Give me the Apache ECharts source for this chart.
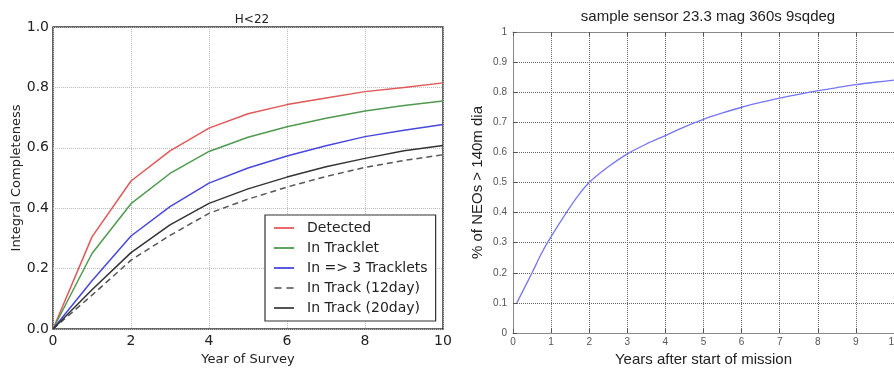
<!DOCTYPE html>
<html><head><meta charset="utf-8">
<script src="https://cdn.jsdelivr.net/npm/echarts@6/dist/echarts.min.js"></script>
<style>html,body{margin:0;padding:0;background:#fff}#c{width:894px;height:368px}</style>
</head><body><div id="c"></div>
<script>
// Left chart data
const yearsLeft = [0,1,2,3,4,5,6,7,8,9,10];
const detected   = [0, 0.305, 0.49, 0.59, 0.665, 0.713, 0.743, 0.765, 0.786, 0.800, 0.815];
const inTracklet = [0, 0.25, 0.415, 0.515, 0.588, 0.635, 0.670, 0.698, 0.722, 0.740, 0.755];
const in3Tracklets = [0, 0.16, 0.308, 0.405, 0.483, 0.533, 0.573, 0.607, 0.637, 0.658, 0.677];
const inTrack12 = [0, 0.112, 0.228, 0.31, 0.383, 0.430, 0.470, 0.505, 0.535, 0.558, 0.577];
const inTrack20 = [0, 0.13, 0.253, 0.345, 0.416, 0.464, 0.503, 0.537, 0.565, 0.590, 0.608];
const leftYTicks = ['0.0','0.2','0.4','0.6','0.8','1.0'];
// Right chart data
const yearsRight = [0.1,0.3,0.5,0.75,1,1.4,1.7,2,2.5,3,3.5,4,4.5,5,5.5,6,6.5,7,7.5,8,8.5,9,9.5,10];
const pctNEO = [0.10,0.15,0.20,0.265,0.32,0.40,0.455,0.50,0.552,0.595,0.628,0.656,0.685,0.710,0.731,0.750,0.766,0.780,0.793,0.805,0.815,0.825,0.833,0.840];

const L = (d) => yearsLeft.map((x,i)=>[x,d[i]]);
const dv = 'DejaVu Sans', ar = 'Liberation Sans';
const solidIcon = 'path://M0,0h20v2h-20z';
const dashIcon = 'path://M0,0h7v2h-7zM12,0h7v2h-7z';
const chart = echarts.init(document.getElementById('c'));
chart.setOption({
  animation:false,
  backgroundColor:'#fff',
  title:[
    {text:'H<22', left:247, top:9, textAlign:'center', textStyle:{fontFamily:dv,fontSize:12,fontWeight:'normal',color:'#222'}},
    {text:'sample sensor 23.3 mag 360s 9sqdeg', left:703, top:4, textAlign:'center', textStyle:{fontFamily:ar,fontSize:15,fontWeight:'normal',color:'#222'}}
  ],
  legend:{
    data:[
      {name:'Detected', icon:solidIcon},
      {name:'In Tracklet', icon:solidIcon},
      {name:'In => 3 Tracklets', icon:solidIcon},
      {name:'In Track (12day)', icon:dashIcon},
      {name:'In Track (20day)', icon:solidIcon}
    ],
    orient:'vertical', left:265, top:215, padding:[6,8,6,9],
    borderColor:'#333', borderWidth:1.2, backgroundColor:'#fff',
    itemWidth:20, itemHeight:2, itemGap:6,
    textStyle:{fontFamily:dv,fontSize:14,color:'#222',padding:[0,0,0,8],lineHeight:14,height:14}
  },
  grid:[
    {left:53, top:27, width:390, height:302, show:true, borderColor:'#333', borderWidth:1.5, backgroundColor:'transparent', outerBoundsMode:'none', containLabel:false},
    {left:513, top:32, right:0, bottom:35, show:false, outerBoundsMode:'none', containLabel:false}
  ],
  xAxis:[
    {gridIndex:0, type:'value', min:0, max:10, interval:2,
     name:'Year of Survey', nameLocation:'middle', nameGap:21,
     nameTextStyle:{fontFamily:dv,fontSize:13,color:'#222'},
     axisLine:{show:false}, axisTick:{show:false},
     axisLabel:{fontFamily:dv,fontSize:14,color:'#222',margin:5},
     splitLine:{show:true,lineStyle:{type:'dotted',color:'#bbb',width:1}}},
    {gridIndex:1, type:'value', min:0, max:10, interval:1,
     name:'Years after start of mission', nameLocation:'middle', nameGap:19,
     nameTextStyle:{fontFamily:ar,fontSize:15,color:'#222'},
     axisLine:{show:true,onZero:false,lineStyle:{color:'#888',width:1}},
     axisTick:{show:true,inside:true,length:4,lineStyle:{color:'#555'}},
     axisLabel:{fontFamily:ar,fontSize:10,color:'#555',margin:4},
     splitLine:{show:true,lineStyle:{type:'dotted',color:'#666',width:1}}},
    {gridIndex:1, type:'value', min:0, max:10, interval:1, position:'top',
     axisLine:{show:true,onZero:false,lineStyle:{color:'#888',width:1}},
     axisTick:{show:true,inside:true,length:4,lineStyle:{color:'#555'}},
     axisLabel:{show:false}, splitLine:{show:false}}
  ],
  yAxis:[
    {gridIndex:0, type:'value', min:0, max:1, interval:0.2,
     name:'Integral Completeness', nameLocation:'middle', nameGap:29,
     nameTextStyle:{fontFamily:dv,fontSize:13,color:'#222'},
     axisLine:{show:false}, axisTick:{show:false},
     axisLabel:{fontFamily:dv,fontSize:14,color:'#222',margin:4,formatter:(v)=>leftYTicks[Math.round(v*5)]},
     splitLine:{show:true,lineStyle:{type:'dotted',color:'#bbb',width:1}}},
    {gridIndex:1, type:'value', min:0, max:1, interval:0.1,
     name:'% of NEOs > 140m dia', nameLocation:'middle', nameGap:28,
     nameTextStyle:{fontFamily:ar,fontSize:15,color:'#222'},
     axisLine:{show:true,onZero:false,lineStyle:{color:'#888',width:1}},
     axisTick:{show:true,inside:true,length:4,lineStyle:{color:'#555'}},
     axisLabel:{fontFamily:ar,fontSize:10,color:'#555',margin:6,formatter:(v)=>String(+v.toFixed(1))},
     splitLine:{show:true,lineStyle:{type:'dotted',color:'#666',width:1}}}
  ],
  series:[
    {name:'Detected', type:'line', xAxisIndex:0, yAxisIndex:0, data:L(detected), symbol:'none', lineStyle:{color:'#e05858',width:1.5}, itemStyle:{color:'#e86a6a'}},
    {name:'In Tracklet', type:'line', xAxisIndex:0, yAxisIndex:0, data:L(inTracklet), symbol:'none', lineStyle:{color:'#4f9a4f',width:1.5}, itemStyle:{color:'#5fa45f'}},
    {name:'In => 3 Tracklets', type:'line', xAxisIndex:0, yAxisIndex:0, data:L(in3Tracklets), symbol:'none', lineStyle:{color:'#4848dc',width:1.5}, itemStyle:{color:'#5a5ae0'}},
    {name:'In Track (12day)', type:'line', xAxisIndex:0, yAxisIndex:0, data:L(inTrack12), symbol:'none', lineStyle:{color:'#555',width:1.5,type:[6,4]}, itemStyle:{color:'#777'}},
    {name:'In Track (20day)', type:'line', xAxisIndex:0, yAxisIndex:0, data:L(inTrack20), symbol:'none', lineStyle:{color:'#333',width:1.5}, itemStyle:{color:'#555'}},
    {name:'sensor', type:'line', xAxisIndex:1, yAxisIndex:1, data:yearsRight.map((x,i)=>[x,pctNEO[i]]), symbol:'none', smooth:0.3, lineStyle:{color:'#7676f4',width:1.3}, itemStyle:{color:'#7676f4'}}
  ]
});
</script></body></html>
